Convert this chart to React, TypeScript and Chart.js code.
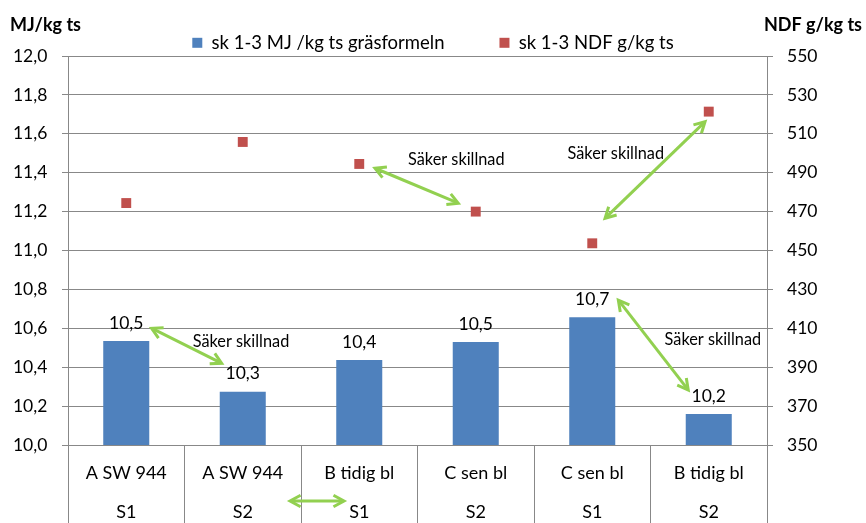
import React, { useEffect, useRef } from "react";
import { Chart, registerables } from "chart.js";

Chart.register(...registerables);

// ---- data ----
const categories: string[][] = [
  ["A SW 944", "S1"],
  ["A SW 944", "S2"],
  ["B tidig bl", "S1"],
  ["C sen bl", "S2"],
  ["C sen bl", "S1"],
  ["B tidig bl", "S2"],
];
const energyMJ = [10.535, 10.274, 10.437, 10.53, 10.657, 10.16];
const ndfValues = [474.4, 505.8, 494.5, 470.0, 453.7, 521.4];

const energyLabel = "sk 1-3 MJ /kg ts gräsformeln";
const ndfLabel = "sk 1-3 NDF g/kg ts";
const leftTitle = "MJ/kg ts";
const rightTitle = "NDF g/kg ts";
const noteText = "Säker skillnad";

// arrows in data units: axis, from [index, value], to [index, value]
const arrowAxes = ["y", "y1", "y1", "y", "y"];
const arrowFrom = [
  [0.218, 10.6],
  [2.135, 492.3],
  [4.11, 466.6],
  [4.224, 10.745],
  [1.406, 9.712],
];
const arrowTo = [
  [0.819, 10.42],
  [2.85, 474.3],
  [4.968, 516.2],
  [4.824, 10.283],
  [1.869, 9.712],
];
// note texts in data units
const noteAxes = ["y", "y1", "y1", "y"];
const notePos = [
  [0.985, 10.531],
  [2.833, 496.9],
  [4.202, 500.0],
  [5.035, 10.54],
];

const FONT = "Lato, 'Open Sans', sans-serif";
const GRID = "#888888";
const GREEN = "#92D050";

const fmt = (v: number) => v.toFixed(1).replace(".", ",");

function drawArrowHead(ctx: CanvasRenderingContext2D, x: number, y: number, ang: number) {
  const len = 12;
  const spread = 0.5;
  ctx.beginPath();
  ctx.moveTo(x + len * Math.cos(ang + spread), y + len * Math.sin(ang + spread));
  ctx.lineTo(x, y);
  ctx.lineTo(x + len * Math.cos(ang - spread), y + len * Math.sin(ang - spread));
  ctx.stroke();
}

const annotations = {
  id: "annotations",
  afterDatasetsDraw(chart: any) {
    const ctx: CanvasRenderingContext2D = chart.ctx;
    const xs = chart.scales.x;
    const area = chart.chartArea;
    ctx.save();
    // bar value labels
    const meta = chart.getDatasetMeta(0);
    ctx.font = `17.5px ${FONT}`;
    ctx.fillStyle = "#000";
    ctx.textAlign = "center";
    ctx.textBaseline = "middle";
    meta.data.forEach((bar: any, i: number) => {
      ctx.fillText(fmt(energyMJ[i]), bar.x, bar.y - 18);
    });
    // notes
    ctx.font = `16.3px ${FONT}`;
    notePos.forEach((p, i) => {
      const ys = chart.scales[noteAxes[i]];
      ctx.fillText(noteText, xs.getPixelForValue(p[0]), ys.getPixelForValue(p[1]));
    });
    // arrows
    ctx.strokeStyle = GREEN;
    ctx.lineWidth = 3;
    ctx.lineCap = "butt";
    ctx.lineJoin = "miter";
    arrowFrom.forEach((f, i) => {
      const ys = chart.scales[arrowAxes[i]];
      const t = arrowTo[i];
      const x1 = xs.getPixelForValue(f[0]);
      const y1 = ys.getPixelForValue(f[1]);
      const x2 = xs.getPixelForValue(t[0]);
      const y2 = ys.getPixelForValue(t[1]);
      const ang = Math.atan2(y2 - y1, x2 - x1);
      ctx.beginPath();
      ctx.moveTo(x1 + 2 * Math.cos(ang), y1 + 2 * Math.sin(ang));
      ctx.lineTo(x2 - 2 * Math.cos(ang), y2 - 2 * Math.sin(ang));
      ctx.stroke();
      drawArrowHead(ctx, x1, y1, ang);
      drawArrowHead(ctx, x2, y2, ang + Math.PI);
    });
    // axis titles
    ctx.fillStyle = "#000";
    ctx.font = `bold 18px ${FONT}`;
    ctx.textBaseline = "middle";
    ctx.textAlign = "left";
    ctx.fillText(leftTitle, chart.scales.y.left + 10, area.top - 31);
    ctx.textAlign = "right";
    ctx.fillText(rightTitle, chart.scales.y1.right - 4, area.top - 31);
    ctx.restore();
  },
};

export default function App() {
  const ref = useRef<HTMLCanvasElement | null>(null);
  useEffect(() => {
    document.body.style.margin = "0";
    if (!ref.current) return;
    const chart = new Chart(ref.current, {
      type: "bar",
      data: {
        labels: categories as any,
        datasets: [
          {
            type: "bar",
            label: energyLabel,
            data: energyMJ,
            backgroundColor: "#4F81BD",
            borderWidth: 0,
            yAxisID: "y",
            barPercentage: 0.395,
            categoryPercentage: 1,
          } as any,
          {
            type: "line",
            label: ndfLabel,
            data: ndfValues,
            yAxisID: "y1",
            showLine: false,
            pointStyle: "rect",
            pointRadius: 7,
            pointBorderWidth: 0,
            borderWidth: 0,
            backgroundColor: "#C0504D",
            borderColor: "#C0504D",
          } as any,
        ],
      },
      options: {
        responsive: false,
        animation: false,
        devicePixelRatio: 1,
        layout: { padding: { top: -21.45, left: 0, right: 0, bottom: 0 } },
        plugins: {
          legend: {
            position: "top",
            maxHeight: 77.45,
            labels: {
              boxWidth: 10,
              boxHeight: 10,
              padding: 55,
              color: "#000",
              font: { family: FONT, size: 18.5 },
            },
          },
          tooltip: { enabled: false },
        },
        scales: {
          x: {
            type: "category",
            offset: true,
            grid: {
              offset: true,
              drawOnChartArea: false,
              drawTicks: true,
              tickLength: 78,
              color: GRID,
            },
            border: { display: true, color: GRID },
            ticks: {
              color: "#000",
              font: { family: FONT, size: 18, lineHeight: "38.4px" as any },
              padding: -68.9,
              autoSkip: false,
              maxRotation: 0,
            },
            afterFit: (s: any) => {
              s.height = 78;
            },
          },
          y: {
            position: "left",
            min: 10,
            max: 12,
            grid: { color: GRID, drawTicks: true, tickLength: 6 },
            border: { display: true, color: GRID },
            ticks: {
              stepSize: 0.2,
              color: "#000",
              font: { family: FONT, size: 17.5 },
              padding: 14.7,
              callback: (v: any) => fmt(Number(v)),
            },
            afterFit: (s: any) => {
              s.width = 68;
            },
          },
          y1: {
            position: "right",
            min: 350,
            max: 550,
            grid: { drawOnChartArea: false, color: GRID, drawTicks: true, tickLength: 6 },
            border: { display: true, color: GRID },
            ticks: {
              stepSize: 20,
              color: "#000",
              font: { family: FONT, size: 17.5 },
              padding: 14,
            },
            afterFit: (s: any) => {
              s.width = 99;
            },
          },
        },
      },
      plugins: [annotations],
    });
    return () => chart.destroy();
  }, []);
  return (
    <div style={{ width: 866, height: 523 }}>
      <canvas ref={ref} width={866} height={523} style={{ display: "block" }} />
    </div>
  );
}
